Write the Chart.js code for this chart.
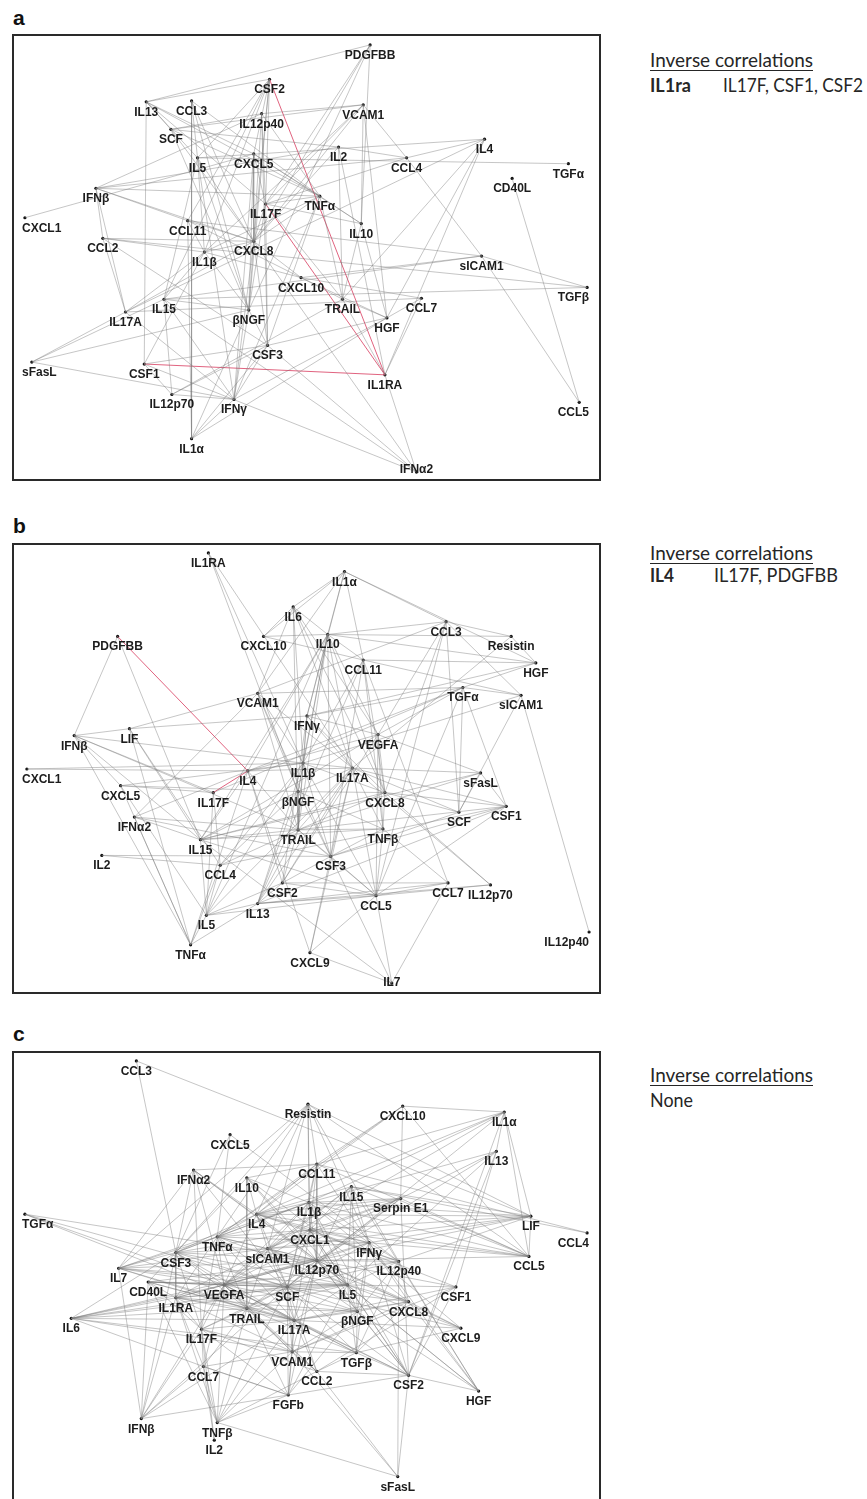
<!DOCTYPE html>
<html><head><meta charset="utf-8">
<script src="https://cdn.jsdelivr.net/npm/chart.js@4.4.1/dist/chart.umd.min.js"></script>
<style>
html,body{margin:0;padding:0;background:#fff;}
body{width:867px;height:1499px;overflow:hidden;position:relative;font-family:'Liberation Sans',Arial,sans-serif;}
.letter{position:absolute;left:13px;font-weight:bold;font-size:21px;line-height:1;color:#111;}
.box{position:absolute;left:12px;border:2px solid #2a2a2a;}
.box canvas{display:block;}
.leg{position:absolute;font-family:Lato,'Open Sans',sans-serif;color:#262626;line-height:1;white-space:nowrap;transform-origin:0 0;}
.u{text-decoration:underline;text-decoration-thickness:1px;text-underline-offset:3px;}
</style></head><body>
<div class="letter" style="top:7px">a</div>
<div class="letter" style="top:515px">b</div>
<div class="letter" style="top:1023px">c</div>
<div class="box" style="top:34px"><canvas id="ca" width="585" height="443"></canvas></div>
<div class="box" style="top:543px"><canvas id="cb" width="585" height="447"></canvas></div>
<div class="box" style="top:1051px"><canvas id="cc" width="585" height="460"></canvas></div>
<div id="legends"></div>
<script>
// ---------- Panel a ----------
const namesA = ['PDGFBB','CSF2','IL13','CCL3','IL12p40','VCAM1','SCF','IL5','CXCL5','IL2','CCL4','IL4','TGFα','CD40L','IFNβ','TNFα','IL17F','CXCL1','CCL11','IL10','CCL2','CXCL8','IL1β','sICAM1','CXCL10','TGFβ','IL15','TRAIL','CCL7','IL17A','βNGF','HGF','CSF3','sFasL','CSF1','IL1RA','IL12p70','IFNγ','CCL5','IL1α','IFNα2'];
const xA = [357,255,130,176,247,350,155,182,239,325,394,473,558,501,79,306,251,7,172,348,86,239,189,470,287,577,148,329,409,109,234,374,253,14,128,372,156,219,569,176,404];
const yA = [5,40,63,62,75,66,91,120,116,109,120,101,126,141,151,159,167,181,184,187,202,205,216,220,242,252,264,264,263,277,275,283,311,328,330,341,361,366,369,406,440];
const edgesA = [["PDGFBB","IL13"],["PDGFBB","IL17F"],["PDGFBB","βNGF"],["PDGFBB","IL10"],["PDGFBB","CXCL8"],
["CSF2","IL5"],["CSF2","CXCL5"],["CSF2","IL17F"],["CSF2","IL1β"],["CSF2","CXCL8"],["CSF2","IL15"],["CSF2","CCL11"],["CSF2","βNGF"],["CSF2","IL13"],
["IL13","SCF"],["IL13","IL5"],["IL13","CXCL5"],["IL13","TNFα"],["IL13","CSF1"],["IL13","IL17F"],
["CCL3","IL5"],["CCL3","CXCL8"],["CCL3","TNFα"],["CCL3","βNGF"],["CCL3","IL1α"],
["IL12p40","SCF"],["IL12p40","VCAM1"],["IL12p40","IL17F"],["IL12p40","CXCL8"],["IL12p40","TNFα"],["IL12p40","IFNβ"],["IL12p40","CSF3"],
["VCAM1","CCL4"],["VCAM1","IL10"],["VCAM1","IL17F"],["VCAM1","CXCL8"],["VCAM1","IL1β"],["VCAM1","SCF"],["VCAM1","HGF"],
["SCF","CXCL8"],["SCF","TNFα"],["SCF","IL2"],["SCF","βNGF"],
["IL5","IL1β"],["IL5","βNGF"],["IL5","CXCL8"],["IL5","IL15"],["IL5","IFNγ"],["IL5","IL4"],["IL5","TGFα"],
["CXCL5","IL17F"],["CXCL5","CXCL8"],["CXCL5","βNGF"],["CXCL5","TNFα"],["CXCL5","IFNγ"],["CXCL5","IL10"],["CXCL5","CXCL1"],
["IL2","TRAIL"],["IL2","IFNβ"],["IL2","CXCL8"],["IL2","IL1RA"],["IL2","CCL4"],
["IL4","CCL4"],["IL4","HGF"],["IL4","TRAIL"],["IL4","IL17A"],["IL4","IL1RA"],
["CCL4","sICAM1"],["CCL4","IL17F"],["CCL4","IFNβ"],
["CD40L","CCL5"],
["sICAM1","TGFβ"],["sICAM1","CCL5"],["sICAM1","CXCL10"],["sICAM1","CCL11"],["sICAM1","IL15"],
["TGFβ","IL15"],["TGFβ","CCL2"],
["CCL7","HGF"],["CCL7","CXCL10"],["CCL7","IL17A"],["CCL7","IL1RA"],
["HGF","TRAIL"],["HGF","CXCL10"],["HGF","CSF3"],["HGF","IL10"],["HGF","IL1α"],
["IL1RA","IFNα2"],["IL1RA","TRAIL"],
["IFNα2","CSF3"],["IFNα2","IL15"],["IFNα2","CXCL8"],
["CXCL10","CXCL8"],["CXCL10","IL1β"],["CXCL10","TRAIL"],["CXCL10","CCL11"],
["TRAIL","IL17F"],["TRAIL","IL10"],["TRAIL","TNFα"],["TRAIL","IL12p70"],
["IL10","TNFα"],["IL10","IL17F"],
["TNFα","IFNβ"],["TNFα","IL17F"],["TNFα","CXCL8"],["TNFα","IL1β"],["TNFα","CSF3"],["TNFα","IFNγ"],
["IL17F","CXCL8"],["IL17F","βNGF"],["IL17F","CSF3"],
["CCL11","CXCL8"],["CCL11","IL1β"],["CCL11","IFNβ"],["CCL11","IL1α"],
["CCL2","IL17A"],["CCL2","IL1β"],["CCL2","CXCL8"],["CCL2","CSF3"],["CCL2","IFNβ"],
["IL1β","CXCL8"],["IL1β","βNGF"],["IL1β","IL17A"],["IL1β","CSF1"],["IL1β","IL15"],
["IL15","βNGF"],["IL15","IL12p70"],["IL15","IFNγ"],
["IL17A","IFNγ"],["IL17A","CXCL8"],["IL17A","sFasL"],
["βNGF","CXCL8"],["βNGF","CSF3"],["βNGF","IFNγ"],["βNGF","sFasL"],["βNGF","IL1α"],
["CSF3","IFNγ"],["CSF3","IL1α"],["CSF3","CXCL8"],["CSF3","CSF1"],
["sFasL","IFNγ"],["sFasL","IL15"],
["CSF1","IFNα2"],["CSF1","IL12p70"],
["IL12p70","IFNγ"],["IL12p70","CSF3"],
["IFNγ","IL1α"],["IFNγ","HGF"],["IFNγ","CXCL8"],
["IFNβ","IL17A"],["IFNβ","CXCL8"]];
const inverseA = [["IL1RA","CSF2"],["IL1RA","IL17F"],["IL1RA","CSF1"]];

// ---------- Panel b ----------
const namesB = ['IL1RA','IL1α','IL6','CCL3','IL10','PDGFBB','CXCL10','Resistin','CCL11','HGF','TGFα','VCAM1','sICAM1','IFNγ','LIF','VEGFA','IFNβ','IL1β','IL17A','CXCL1','IL4','sFasL','CXCL5','IL17F','βNGF','CXCL8','CSF1','SCF','IFNα2','TNFβ','TRAIL','IL15','IL2','CSF3','CCL4','CSF2','CCL7','IL12p70','CCL5','IL13','IL5','IL12p40','TNFα','CXCL9','IL7'];
const xB = [193,331,279,434,314,101,249,500,350,525,451,243,510,293,113,365,57,289,339,9,233,469,104,198,284,372,495,447,118,370,284,185,85,317,205,268,436,479,363,243,191,579,175,296,379];
const yB = [4,23,59,74,87,89,89,89,113,116,141,147,149,170,183,189,190,218,223,224,226,228,241,248,247,248,262,268,273,285,286,296,312,313,322,340,340,342,353,361,373,390,403,411,442];
const edgesB = [["IL1RA","βNGF"],["IL1RA","IL17A"],["IL1RA","IL1β"],
["IL6","CXCL10"],["IL6","IL10"],["IL6","IL17A"],["IL6","CXCL8"],["IL6","IL1β"],["IL6","TRAIL"],["IL6","VEGFA"],["IL6","IL1α"],["IL6","VCAM1"],
["PDGFBB","IFNβ"],["PDGFBB","IL15"],
["CXCL10","IL10"],["CXCL10","IL1α"],["CXCL10","CCL11"],
["IL1α","CCL3"],["IL1α","IL10"],["IL1α","CCL11"],["IL1α","HGF"],["IL1α","VCAM1"],["IL1α","IFNγ"],
["CCL3","Resistin"],["CCL3","IL10"],["CCL3","sICAM1"],["CCL3","CXCL8"],["CCL3","SCF"],["CCL3","VEGFA"],["CCL3","CCL5"],
["Resistin","HGF"],["Resistin","IL17A"],["Resistin","IL10"],
["HGF","IL10"],["HGF","CCL11"],["HGF","IFNγ"],["HGF","TGFα"],
["sICAM1","IL12p40"],["sICAM1","SCF"],["sICAM1","TGFα"],["sICAM1","IL1β"],["sICAM1","CCL11"],
["TGFα","SCF"],["TGFα","CSF1"],["TGFα","IL4"],["TGFα","VEGFA"],["TGFα","CCL5"],["TGFα","IFNγ"],["TGFα","IL17F"],
["sFasL","CSF1"],["sFasL","VEGFA"],["sFasL","IL17A"],["sFasL","TRAIL"],["sFasL","SCF"],["sFasL","IL15"],
["CSF1","CCL5"],["CSF1","CXCL8"],["CSF1","IL17A"],["CSF1","CSF3"],["CSF1","TRAIL"],["CSF1","IL13"],["CSF1","CCL4"],
["SCF","CXCL8"],["SCF","IL17A"],["SCF","CSF3"],
["CCL7","CCL5"],["CCL7","CSF2"],["CCL7","IL7"],["CCL7","CCL11"],["CCL7","IL13"],["CCL7","TNFβ"],
["IL12p70","CXCL8"],["IL12p70","IL17A"],["IL12p70","CCL5"],["IL12p70","IL13"],
["CCL5","CSF3"],["CCL5","IL17A"],["CCL5","TNFβ"],["CCL5","IL13"],["CCL5","IL5"],["CCL5","CXCL9"],["CCL5","IL15"],["CCL5","IL7"],["CCL5","CSF2"],["CCL5","VEGFA"],["CCL5","TRAIL"],["CCL5","IL1β"],
["IL7","CXCL9"],["IL7","CSF3"],["IL7","IL15"],
["CXCL9","CSF3"],["CXCL9","IL17A"],["CXCL9","IL4"],
["VEGFA","CXCL8"],["VEGFA","TNFβ"],["VEGFA","IFNγ"],["VEGFA","IL4"],["VEGFA","IL15"],["VEGFA","IL10"],["VEGFA","CSF2"],
["IL17A","TNFβ"],["IL17A","CSF3"],["IL17A","IL10"],["IL17A","TRAIL"],["IL17A","IL13"],["IL17A","IL1β"],["IL17A","IL4"],
["CXCL8","TNFβ"],["CXCL8","IL1β"],["CXCL8","IFNγ"],["CXCL8","IL10"],["CXCL8","TRAIL"],
["TNFβ","CSF3"],["TNFβ","TRAIL"],["TNFβ","βNGF"],
["IFNγ","IL10"],["IFNγ","IL1β"],["IFNγ","TRAIL"],["IFNγ","LIF"],["IFNγ","CSF2"],["IFNγ","IL17A"],
["LIF","IFNβ"],["LIF","CCL4"],["LIF","IL15"],["LIF","VCAM1"],["LIF","TNFα"],
["IFNβ","IL1β"],["IFNβ","CXCL5"],["IFNβ","IL17F"],["IFNβ","TNFα"],["IFNβ","IL15"],["IFNβ","TRAIL"],
["CXCL1","IL4"],["CXCL1","IL1β"],
["CXCL5","IL5"],["CXCL5","IL17F"],["CXCL5","TNFα"],["CXCL5","IL1β"],["CXCL5","βNGF"],
["IFNα2","TNFα"],["IFNα2","VCAM1"],["IFNα2","IL15"],["IFNα2","TRAIL"],["IFNα2","IL4"],["IFNα2","CSF3"],
["IL2","CSF3"],["IL2","CCL4"],
["IL15","TRAIL"],["IL15","CXCL8"],["IL15","IL5"],["IL15","βNGF"],["IL15","TNFβ"],
["CCL4","IL17F"],["CCL4","βNGF"],["CCL4","TRAIL"],["CCL4","IL5"],["CCL4","IL1β"],
["CSF2","CSF3"],["CSF2","IL13"],["CSF2","TRAIL"],["CSF2","IL17A"],["CSF2","IL5"],["CSF2","IL4"],
["IL13","IL5"],["IL13","βNGF"],["IL13","TRAIL"],["IL13","TNFα"],
["IL5","TNFα"],["IL5","IL17F"],["IL5","IL1β"],["IL5","IL17A"],
["TNFα","IL4"],["TNFα","CCL4"],
["IL4","IL1β"],["IL4","IL15"],["IL4","TRAIL"],
["βNGF","TRAIL"],["βNGF","IL1β"],["βNGF","CSF3"],["βNGF","CXCL8"],["βNGF","IL17A"],
["VCAM1","IL1β"],["VCAM1","βNGF"],["VCAM1","TRAIL"],["VCAM1","CSF3"],["VCAM1","IL17A"],["VCAM1","CCL3"],["VCAM1","TGFα"],
["IL10","CCL11"],["IL10","IL1β"],["IL10","βNGF"],["IL10","CSF3"],["IL10","TRAIL"],["IL10","IL5"],["IL10","IL4"],["IL10","IL15"],
["CCL11","CXCL8"],["CCL11","IL1β"],["CCL11","TNFβ"],["CCL11","IL13"],["CCL11","CSF3"],
["IL1β","TRAIL"],["IL1β","IL13"],["IL1β","CSF3"],
["TRAIL","CSF3"]];
const inverseB = [["PDGFBB","IL4"],["IL17F","IL4"]];

// ---------- Panel c ----------
const namesC = ['CCL3','Resistin','CXCL10','IL1α','CXCL5','IL13','CCL11','IFNα2','IL10','IL15','Serpin E1','IL1β','TGFα','IL4','LIF','CXCL1','CCL4','TNFα','IFNγ','sICAM1','CSF3','CCL5','IL12p70','IL12p40','IL7','CD40L','VEGFA','IL5','SCF','CSF1','IL1RA','CXCL8','TRAIL','βNGF','IL6','IL17A','CXCL9','IL17F','VCAM1','TGFβ','CCL7','CCL2','CSF2','HGF','FGFb','IFNβ','TNFβ','IL2','sFasL'];
const xC = [120,294,390,493,215,485,303,178,232,338,388,295,7,242,520,296,577,202,356,253,160,518,303,386,102,132,209,334,273,444,160,396,232,344,54,280,449,186,278,343,188,303,396,467,274,125,202,199,385];
const yC = [4,48,50,56,79,96,109,115,123,132,144,148,160,160,162,176,179,183,189,195,199,203,207,208,215,229,232,232,234,234,245,249,256,259,266,268,276,277,300,301,315,320,324,340,344,368,372,390,427];
const edgesC = [["CCL3","LIF"],["CCL3","CSF3"],
["Resistin","IL4"],["Resistin","TNFα"],["Resistin","CSF3"],["Resistin","sICAM1"],["Resistin","CCL11"],["Resistin","IL1β"],["Resistin","LIF"],["Resistin","CCL5"],["Resistin","IL12p40"],["Resistin","IFNγ"],["Resistin","IL7"],["Resistin","CXCL1"],
["CXCL10","IL1α"],["CXCL10","Serpin E1"],["CXCL10","IL4"],["CXCL10","TNFα"],["CXCL10","CCL11"],["CXCL10","CCL5"],
["Serpin E1","CSF2"],
["IL1α","CCL5"],["IL1α","LIF"],["IL1α","CCL11"],["IL1α","IL1β"],["IL1α","sICAM1"],["IL1α","SCF"],["IL1α","CSF2"],["IL1α","IL13"],["IL1α","IL4"],
["IL13","IL12p70"],["IL13","CSF2"],["IL13","IL1β"],["IL13","VEGFA"],["IL13","CSF1"],["IL13","IL5"],
["CXCL5","TNFα"],["CXCL5","IL12p40"],["CXCL5","CSF3"],
["IFNα2","CCL11"],["IFNα2","IL17F"],["IFNα2","SCF"],["IFNα2","IL4"],["IFNα2","CSF3"],["IFNα2","IL7"],["IFNα2","IL12p70"],["IFNα2","VEGFA"],["IFNα2","IL5"],
["IL10","IL4"],["IL10","CCL11"],["IL10","IL12p70"],["IL10","CSF3"],["IL10","TRAIL"],["IL10","IL5"],["IL10","IL1β"],["IL10","CXCL8"],
["TGFα","SCF"],["TGFα","IL17A"],["TGFα","VEGFA"],["TGFα","IL12p70"],
["IL7","TNFα"],["IL7","IFNβ"],["IL7","CSF3"],["IL7","VEGFA"],["IL7","SCF"],["IL7","IL12p70"],["IL7","IL17A"],["IL7","TRAIL"],["IL7","IL1β"],["IL7","IL5"],["IL7","sICAM1"],
["IL6","VEGFA"],["IL6","TRAIL"],["IL6","CSF3"],["IL6","IL17A"],["IL6","CCL7"],["IL6","VCAM1"],["IL6","IL1RA"],["IL6","SCF"],["IL6","IL12p70"],["IL6","IL5"],["IL6","TGFβ"],
["CD40L","TNFβ"],["CD40L","SCF"],["CD40L","IL17F"],["CD40L","VEGFA"],["CD40L","IL12p70"],["CD40L","IFNβ"],["CD40L","IL5"],["CD40L","TRAIL"],
["IFNβ","IL1RA"],["IFNβ","CSF3"],["IFNβ","IL17A"],["IFNβ","VEGFA"],["IFNβ","FGFb"],["IFNβ","SCF"],
["TNFβ","IL17F"],["TNFβ","CCL7"],["TNFβ","TRAIL"],["TNFβ","VCAM1"],["TNFβ","sFasL"],["TNFβ","IL17A"],["TNFβ","VEGFA"],["TNFβ","IL1RA"],["TNFβ","FGFb"],["TNFβ","SCF"],["TNFβ","CCL2"],
["IL2","IL17F"],["IL2","CCL7"],
["FGFb","IL17A"],["FGFb","SCF"],["FGFb","VCAM1"],["FGFb","IL5"],["FGFb","CCL7"],["FGFb","TRAIL"],["FGFb","IL12p70"],["FGFb","βNGF"],["FGFb","IL17F"],["FGFb","CSF2"],
["sFasL","CSF2"],["sFasL","IL12p40"],["sFasL","CCL2"],["sFasL","VCAM1"],
["HGF","IL12p40"],["HGF","CXCL8"],["HGF","IL5"],["HGF","IFNγ"],["HGF","CSF2"],["HGF","βNGF"],["HGF","IL15"],["HGF","IL12p70"],
["CSF2","IL17A"],["CSF2","SCF"],["CSF2","IFNγ"],["CSF2","βNGF"],["CSF2","IL5"],["CSF2","IL12p70"],["CSF2","TGFβ"],["CSF2","VEGFA"],["CSF2","CCL2"],["CSF2","CSF1"],["CSF2","IL1β"],["CSF2","CXCL1"],
["CXCL9","IL5"],["CXCL9","IL12p70"],["CXCL9","CXCL8"],["CXCL9","IL1β"],["CXCL9","TGFβ"],["CXCL9","SCF"],["CXCL9","IL17A"],
["CSF1","IL5"],["CSF1","IL12p70"],["CSF1","IL17A"],["CSF1","CCL2"],["CSF1","CXCL1"],["CSF1","VCAM1"],
["CCL5","LIF"],["CCL5","IL15"],["CCL5","Serpin E1"],["CCL5","IFNγ"],["CCL5","IL12p70"],["CCL5","CCL11"],["CCL5","IL4"],["CCL5","CXCL1"],["CCL5","IL1β"],
["LIF","IL15"],["LIF","IL1β"],["LIF","CXCL1"],["LIF","sICAM1"],["LIF","IL12p40"],["LIF","IL12p70"],["LIF","IL4"],["LIF","IFNγ"],
["CCL4","CCL11"],["CCL4","IL15"],
["Serpin E1","IL1β"],["Serpin E1","IL4"],["Serpin E1","CXCL1"],["Serpin E1","IL12p70"],["Serpin E1","SCF"],["Serpin E1","TNFα"],["Serpin E1","sICAM1"],
["IL15","IFNγ"],["IL15","IL5"],["IL15","βNGF"],["IL15","CXCL1"],["IL15","sICAM1"],["IL15","IL12p70"],["IL15","IL4"],["IL15","VEGFA"],
["CCL11","IL1β"],["CCL11","CXCL1"],["CCL11","IL4"],["CCL11","IL12p70"],["CCL11","IFNγ"],["CCL11","TNFα"],["CCL11","SCF"],
["IL1β","CXCL1"],["IL1β","IL12p70"],["IL1β","IL4"],["IL1β","sICAM1"],["IL1β","IFNγ"],["IL1β","SCF"],["IL1β","IL5"],["IL1β","TNFα"],["IL1β","VEGFA"],["IL1β","CSF3"],
["CXCL1","IL12p70"],["CXCL1","IL5"],["CXCL1","sICAM1"],["CXCL1","SCF"],["CXCL1","VEGFA"],["CXCL1","TNFα"],["CXCL1","IFNγ"],["CXCL1","IL12p40"],["CXCL1","IL4"],["CXCL1","CSF3"],["CXCL1","βNGF"],["CXCL1","IL17A"],
["IFNγ","IL12p40"],["IFNγ","IL5"],["IFNγ","IL12p70"],["IFNγ","CXCL8"],["IFNγ","βNGF"],["IFNγ","sICAM1"],["IFNγ","SCF"],["IFNγ","TNFα"],["IFNγ","VEGFA"],["IFNγ","IL4"],["IFNγ","TGFβ"],
["IL12p40","CXCL8"],["IL12p40","IL5"],["IL12p40","IL12p70"],["IL12p40","SCF"],["IL12p40","TGFβ"],["IL12p40","IL4"],["IL12p40","VEGFA"],["IL12p40","βNGF"],
["IL12p70","IL5"],["IL12p70","SCF"],["IL12p70","sICAM1"],["IL12p70","VEGFA"],["IL12p70","TRAIL"],["IL12p70","IL17A"],["IL12p70","βNGF"],["IL12p70","TNFα"],["IL12p70","CSF3"],["IL12p70","IL4"],["IL12p70","IL1RA"],["IL12p70","CXCL8"],["IL12p70","VCAM1"],
["IL5","βNGF"],["IL5","SCF"],["IL5","IL17A"],["IL5","CXCL8"],["IL5","TGFβ"],["IL5","VEGFA"],["IL5","TRAIL"],["IL5","sICAM1"],["IL5","IL1RA"],["IL5","TNFα"],["IL5","CSF3"],
["CXCL8","βNGF"],["CXCL8","SCF"],["CXCL8","TGFβ"],["CXCL8","VCAM1"],["CXCL8","IL17A"],["CXCL8","sICAM1"],
["βNGF","IL17A"],["βNGF","SCF"],["βNGF","TGFβ"],["βNGF","VCAM1"],["βNGF","TRAIL"],["βNGF","VEGFA"],["βNGF","sICAM1"],["βNGF","IL1RA"],
["TGFβ","IL17A"],["TGFβ","VCAM1"],["TGFβ","CCL2"],["TGFβ","SCF"],["TGFβ","TRAIL"],["TGFβ","VEGFA"],
["CCL2","VCAM1"],["CCL2","IL17A"],["CCL2","SCF"],["CCL2","TRAIL"],["CCL2","IL17F"],["CCL2","VEGFA"],
["VCAM1","IL17A"],["VCAM1","TRAIL"],["VCAM1","SCF"],["VCAM1","CCL7"],["VCAM1","IL17F"],["VCAM1","VEGFA"],["VCAM1","IL1RA"],
["IL17A","SCF"],["IL17A","TRAIL"],["IL17A","VEGFA"],["IL17A","IL1RA"],["IL17A","sICAM1"],["IL17A","IL17F"],["IL17A","CSF3"],["IL17A","TNFα"],["IL17A","CD40L"],
["SCF","VEGFA"],["SCF","TRAIL"],["SCF","sICAM1"],["SCF","TNFα"],["SCF","CSF3"],["SCF","IL1RA"],["SCF","IL4"],["SCF","IL17F"],
["TRAIL","VEGFA"],["TRAIL","IL1RA"],["TRAIL","IL17F"],["TRAIL","CSF3"],["TRAIL","CCL7"],["TRAIL","sICAM1"],["TRAIL","TNFα"],
["VEGFA","IL1RA"],["VEGFA","CSF3"],["VEGFA","sICAM1"],["VEGFA","TNFα"],["VEGFA","IL17F"],["VEGFA","CCL7"],["VEGFA","IL4"],["VEGFA","CD40L"],
["sICAM1","TNFα"],["sICAM1","CSF3"],["sICAM1","IL4"],["sICAM1","IL1RA"],
["TNFα","IL4"],["TNFα","CSF3"],["TNFα","IL1RA"],["TNFα","IL17F"],
["CSF3","IL1RA"],["CSF3","CD40L"],["CSF3","IL17F"],["CSF3","IL4"],
["IL1RA","IL17F"],["IL1RA","CCL7"],["IL1RA","CD40L"],
["IL17F","CCL7"],["IL17F","IFNβ"],
["CCL7","FGFb"],["CCL7","IFNβ"]];
const inverseC = [];

// ---------- Legend texts ----------
const legendTitle = 'Inverse correlations';
const legendRows = [
  {key:'IL1ra', vals:'IL17F, CSF1, CSF2', base1:68, base2:93, valX:723},
  {key:'IL4', vals:'IL17F, PDGFBB', base1:561, base2:583, valX:714},
  {key:'', vals:'None', base1:1083, base2:1108, valX:650}
];
// measured text widths in the reference (px)
const legendWidths = {'Inverse correlations':163, 'IL1ra':41, 'IL17F, CSF1, CSF2':140, 'IL4':24, 'IL17F, PDGFBB':124, 'None':43};

// ---------- Rendering ----------
const GRAY = 'rgba(120,120,120,0.42)';
const RED = 'rgba(218,72,104,0.85)';

function labelPlugin(names, xs, ys) {
  return {
    id: 'nodeLabels',
    afterDatasetsDraw(chart) {
      const ctx = chart.ctx, sx = chart.scales.x, sy = chart.scales.y, a = chart.chartArea;
      ctx.save();
      ctx.font = 'bold 12px "Liberation Sans", Arial, sans-serif';
      ctx.fillStyle = '#1c1c1c';
      ctx.textBaseline = 'alphabetic';
      names.forEach((n, i) => {
        const px = sx.getPixelForValue(xs[i]);
        const py = sy.getPixelForValue(ys[i]);
        const tw = ctx.measureText(n).width;
        let left = px - tw / 2;
        left = Math.max(a.left + 4, Math.min(a.right - 6 - tw, left));
        const base = Math.min(py + 14, a.bottom - 2);
        ctx.fillText(n, left, base);
      });
      ctx.restore();
    }
  };
}

function makeChart(id, names, xs, ys, edges, inv) {
  const cv = document.getElementById(id);
  const idx = {};
  names.forEach((n, i) => idx[n] = i);
  const pt = n => ({x: xs[idx[n]], y: ys[idx[n]]});
  const ds = [];
  const addEdge = (p, q, col) => {
    if (!(p in idx) || !(q in idx)) return;
    ds.push({data: [pt(p), pt(q)], showLine: true, borderColor: col, borderWidth: 1,
             pointRadius: 0, pointHoverRadius: 0, fill: false});
  };
  edges.forEach(([p, q]) => addEdge(p, q, GRAY));
  inv.forEach(([p, q]) => addEdge(p, q, RED));
  ds.push({data: names.map((n, i) => ({x: xs[i], y: ys[i]})), showLine: false,
           pointRadius: 1.6, pointBackgroundColor: '#111', pointBorderWidth: 0});
  new Chart(cv, {
    type: 'scatter',
    data: {datasets: ds},
    options: {
      responsive: false, animation: false, devicePixelRatio: 1, events: [],
      layout: {padding: 0},
      plugins: {legend: {display: false}, tooltip: {enabled: false}},
      scales: {
        x: {type: 'linear', min: 0, max: cv.width, display: false},
        y: {type: 'linear', min: 0, max: cv.height, reverse: true, display: false}
      }
    },
    plugins: [labelPlugin(names, xs, ys)]
  });
}

makeChart('ca', namesA, xA, yA, edgesA, inverseA);
makeChart('cb', namesB, xB, yB, edgesB, inverseB);
makeChart('cc', namesC, xC, yC, edgesC, inverseC);

// legend
(function () {
  const m = document.createElement('canvas').getContext('2d');
  m.font = '100px Lato';
  const fs = 100 * 163 / m.measureText(legendTitle).width;
  const asc = 0.887 * fs;
  const host = document.getElementById('legends');
  const add = (txt, x, base, bold, cls) => {
    const d = document.createElement('div');
    d.className = 'leg' + (cls ? ' ' + cls : '');
    d.style.fontSize = fs + 'px';
    if (bold) d.style.fontWeight = 'bold';
    d.style.left = x + 'px';
    d.style.top = (base - asc) + 'px';
    d.textContent = txt;
    host.appendChild(d);
    const w = d.getBoundingClientRect().width;
    const target = legendWidths[txt];
    if (target && w > 0) d.style.transform = 'scaleX(' + Math.min(1.05, target / w) + ')';
  };
  legendRows.forEach(r => {
    add(legendTitle, 650, r.base1, false, 'u');
    if (r.key) add(r.key, 650, r.base2, true);
    add(r.vals, r.valX, r.base2, false);
  });
})();
</script>
</body></html>
